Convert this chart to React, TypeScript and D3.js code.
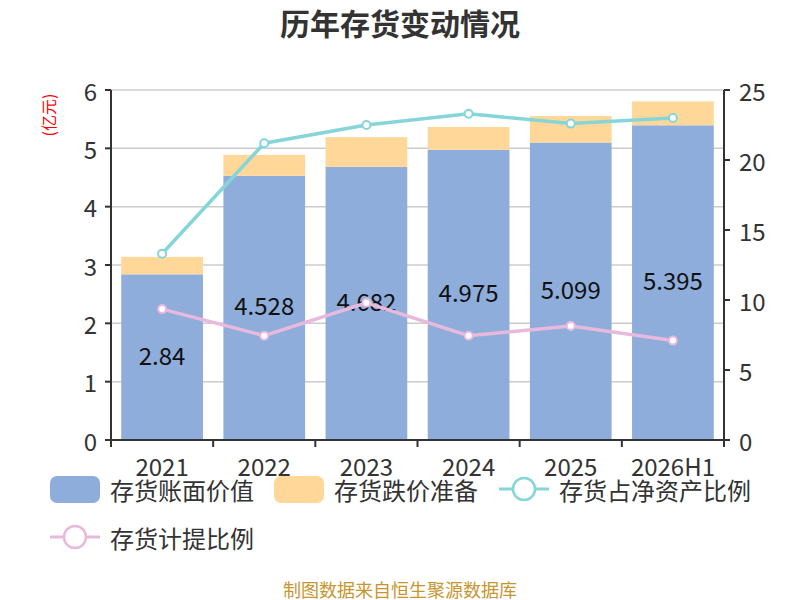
import * as d3 from 'd3';

const categories = ['2021', '2022', '2023', '2024', '2025', '2026H1'];
const bookValue = [2.84, 4.528, 4.682, 4.975, 5.099, 5.395];
const impairment = [0.3, 0.36, 0.51, 0.39, 0.455, 0.41];
const netAssetRatio = [13.3, 21.2, 22.5, 23.3, 22.6, 23.0];
const provisionRatio = [9.35, 7.45, 9.8, 7.45, 8.15, 7.1];
const leftTicks = [0, 1, 2, 3, 4, 5, 6];
const rightTicks = [0, 5, 10, 15, 20, 25];

const FONT = '"Noto Sans CJK SC", "Noto Sans", sans-serif';
const BLUE = '#8eaddb';
const ORANGE = '#ffd899';
const CYAN = '#86d5d8';
const PINK = '#e8b9dc';
const AXIS = '#333';

export default function App(): JSX.Element {
  const width = 800;
  const height = 600;
  const margin = { top: 90, right: 76, bottom: 160, left: 111 };
  const innerRight = width - margin.right;
  const innerBottom = height - margin.bottom;

  const x = d3.scaleBand<string>()
    .domain(categories)
    .range([margin.left, innerRight])
    .paddingInner(0.2)
    .paddingOuter(0.1);
  const step = x.step();

  const yLeft = d3.scaleLinear().domain([0, 6]).range([innerBottom, margin.top]);
  const yRight = d3.scaleLinear().domain([0, 25]).range([innerBottom, margin.top]);

  const cx = (c: string) => (x(c) ?? 0) + x.bandwidth() / 2;

  const lineGen = d3.line<number>()
    .x((_, i) => cx(categories[i]))
    .y(d => yRight(d));

  return (
    <div style={{ position: 'fixed', left: 0, top: 0, width, height, overflow: 'hidden', background: '#fff' }}>
      <svg width={width} height={height} style={{ display: 'block' }} fontFamily={FONT}>
        <text x={400} y={22} textAnchor="middle" dominantBaseline="central" fontSize={30} fontWeight="bold" fill="#333">
          历年存货变动情况
        </text>

        {/* grid */}
        {leftTicks.map(t => (
          <line key={`g${t}`} x1={margin.left} x2={innerRight} y1={yLeft(t)} y2={yLeft(t)} stroke="#ccc" strokeWidth={1.5} />
        ))}

        {/* bars */}
        {categories.map((c, i) => (
          <g key={c}>
            <rect x={x(c)} width={x.bandwidth()} y={yLeft(bookValue[i])}
              height={yLeft(0) - yLeft(bookValue[i])} fill={BLUE} />
            <rect x={x(c)} width={x.bandwidth()} y={yLeft(bookValue[i] + impairment[i])}
              height={yLeft(bookValue[i]) - yLeft(bookValue[i] + impairment[i])} fill={ORANGE} />
          </g>
        ))}

        {/* bar labels */}
        {categories.map((c, i) => (
          <text key={`l${c}`} x={cx(c)} y={(yLeft(0) + yLeft(bookValue[i])) / 2 - 3} textAnchor="middle"
            dominantBaseline="central" fontSize={24} fill="#111">
            {bookValue[i]}
          </text>
        ))}

        {/* lines */}
        <path d={lineGen(netAssetRatio) ?? ''} fill="none" stroke={CYAN} strokeWidth={3.5} />
        {netAssetRatio.map((v, i) => (
          <circle key={`c${i}`} cx={cx(categories[i])} cy={yRight(v)} r={4} fill="#fff" stroke={CYAN} strokeWidth={2} />
        ))}
        <path d={lineGen(provisionRatio) ?? ''} fill="none" stroke={PINK} strokeWidth={3.5} />
        {provisionRatio.map((v, i) => (
          <circle key={`p${i}`} cx={cx(categories[i])} cy={yRight(v)} r={4} fill="#fff" stroke={PINK} strokeWidth={2} />
        ))}

        {/* left axis */}
        <line x1={margin.left} x2={margin.left} y1={margin.top} y2={innerBottom} stroke={AXIS} strokeWidth={2} />
        {leftTicks.map(t => (
          <g key={`lt${t}`}>
            <line x1={margin.left - 6} x2={margin.left} y1={yLeft(t)} y2={yLeft(t)} stroke={AXIS} strokeWidth={2} />
            <text x={margin.left - 14} y={yLeft(t)} textAnchor="end" dominantBaseline="central" fontSize={24} fill={AXIS}>{t}</text>
          </g>
        ))}
        <text transform={`translate(48,115) rotate(-90)`} textAnchor="middle" dominantBaseline="central" fontSize={16} fill="red">(亿元)</text>

        {/* right axis */}
        <line x1={innerRight} x2={innerRight} y1={margin.top} y2={innerBottom} stroke={AXIS} strokeWidth={2} />
        {rightTicks.map(t => (
          <g key={`rt${t}`}>
            <line x1={innerRight} x2={innerRight + 6} y1={yRight(t)} y2={yRight(t)} stroke={AXIS} strokeWidth={2} />
            <text x={innerRight + 15} y={yRight(t)} textAnchor="start" dominantBaseline="central" fontSize={24} fill={AXIS}>{t}</text>
          </g>
        ))}
        <text transform={`translate(806,98) rotate(-90)`} textAnchor="middle" dominantBaseline="central" fontSize={16} fill="red">(%)</text>

        {/* x axis */}
        <line x1={margin.left} x2={innerRight} y1={innerBottom} y2={innerBottom} stroke={AXIS} strokeWidth={2} />
        {d3.range(categories.length + 1).map(i => (
          <line key={`xt${i}`} x1={margin.left + i * step} x2={margin.left + i * step} y1={innerBottom} y2={innerBottom + 7} stroke={AXIS} strokeWidth={2} />
        ))}
        {categories.map(c => (
          <text key={`xl${c}`} x={cx(c)} y={465} textAnchor="middle" dominantBaseline="central" fontSize={24} fill={AXIS}>{c}</text>
        ))}

        {/* legend */}
        <rect x={50} y={476} width={50} height={27} rx={7} fill={BLUE} />
        <text x={110} y={489} dominantBaseline="central" fontSize={24} fill={AXIS}>存货账面价值</text>
        <rect x={274} y={476} width={50} height={27} rx={7} fill={ORANGE} />
        <text x={334} y={489} dominantBaseline="central" fontSize={24} fill={AXIS}>存货跌价准备</text>
        <line x1={499} x2={549} y1={489} y2={489} stroke={CYAN} strokeWidth={3} />
        <circle cx={524} cy={489} r={11} fill="#fff" stroke={CYAN} strokeWidth={2.5} />
        <text x={559} y={489} dominantBaseline="central" fontSize={24} fill={AXIS}>存货占净资产比例</text>
        <line x1={50} x2={100} y1={537} y2={537} stroke={PINK} strokeWidth={3} />
        <circle cx={75} cy={537} r={11} fill="#fff" stroke={PINK} strokeWidth={2.5} />
        <text x={110} y={537} dominantBaseline="central" fontSize={24} fill={AXIS}>存货计提比例</text>

        <text x={400} y={589} textAnchor="middle" dominantBaseline="central" fontSize={18} fill="#c8952f">制图数据来自恒生聚源数据库</text>
      </svg>
    </div>
  );
}
